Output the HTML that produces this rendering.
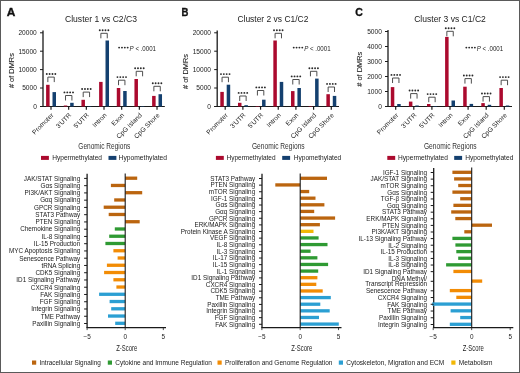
<!DOCTYPE html>
<html><head><meta charset="utf-8"><style>
html,body{margin:0;padding:0;background:#fff;}
#f{position:relative;width:520px;height:373px;box-sizing:border-box;border:1px solid #5a5a5a;overflow:hidden;background:#fff;}
svg{position:absolute;left:-1px;top:-1px;font-family:"Liberation Sans", sans-serif;will-change:transform;}
</style></head><body><div id="f">
<svg width="520" height="373" viewBox="0 0 520 373">
<text x="6.80" y="15.70" font-size="11" text-anchor="start" fill="#111" textLength="8.60" lengthAdjust="spacingAndGlyphs" font-weight="bold" stroke="#111" stroke-width="0.35">A</text>
<text x="65.00" y="21.90" font-size="8.7" text-anchor="start" fill="#222" textLength="72.00" lengthAdjust="spacingAndGlyphs">Cluster 1 vs C2/C3</text>
<line x1="43.00" y1="30.50" x2="43.00" y2="107.00" stroke="#1a1a1a" stroke-width="1.3"/>
<line x1="40.00" y1="106.50" x2="164.80" y2="106.50" stroke="#1a1a1a" stroke-width="1.1"/>
<line x1="40.00" y1="106.50" x2="43.00" y2="106.50" stroke="#1a1a1a" stroke-width="1"/>
<text x="36.80" y="108.80" font-size="6.6" text-anchor="end" fill="#222">0</text>
<line x1="40.00" y1="88.00" x2="43.00" y2="88.00" stroke="#1a1a1a" stroke-width="1"/>
<text x="36.80" y="90.30" font-size="6.6" text-anchor="end" fill="#222">5000</text>
<line x1="40.00" y1="69.60" x2="43.00" y2="69.60" stroke="#1a1a1a" stroke-width="1"/>
<text x="36.80" y="71.90" font-size="6.6" text-anchor="end" fill="#222">10000</text>
<line x1="40.00" y1="51.20" x2="43.00" y2="51.20" stroke="#1a1a1a" stroke-width="1"/>
<text x="36.80" y="53.50" font-size="6.6" text-anchor="end" fill="#222">15000</text>
<line x1="40.00" y1="32.80" x2="43.00" y2="32.80" stroke="#1a1a1a" stroke-width="1"/>
<text x="36.80" y="35.10" font-size="6.6" text-anchor="end" fill="#222">20000</text>
<text x="-17.50" y="0.00" font-size="6.8" text-anchor="start" fill="#222" stroke="#222" stroke-width="0.08" textLength="35.00" lengthAdjust="spacingAndGlyphs" transform="translate(14.20,70.60) rotate(-90)"># of DMRs</text>
<rect x="46.10" y="84.80" width="3.50" height="21.70" fill="#ab0a2e"/>
<rect x="52.50" y="92.10" width="3.50" height="14.40" fill="#14406f"/>
<line x1="51.00" y1="106.50" x2="51.00" y2="109.70" stroke="#1a1a1a" stroke-width="1.2"/>
<path d="M47.85,82.10 V77.10 H54.25 V82.10" stroke="#3a3a3a" stroke-width="0.9" fill="none"/>
<circle cx="46.77" cy="74.00" r="0.95" fill="#2a2a2a"/>
<circle cx="49.62" cy="74.00" r="0.95" fill="#2a2a2a"/>
<circle cx="52.47" cy="74.00" r="0.95" fill="#2a2a2a"/>
<circle cx="55.32" cy="74.00" r="0.95" fill="#2a2a2a"/>
<text x="0.00" y="0.00" font-size="6.6" text-anchor="end" fill="#222" transform="translate(54.00,115.70) rotate(-45)">Promoter</text>
<rect x="63.77" y="105.50" width="3.50" height="1.00" fill="#ab0a2e"/>
<rect x="70.17" y="102.80" width="3.50" height="3.70" fill="#14406f"/>
<line x1="68.67" y1="106.50" x2="68.67" y2="109.70" stroke="#1a1a1a" stroke-width="1.2"/>
<path d="M65.52,100.50 V95.50 H71.92 V100.50" stroke="#3a3a3a" stroke-width="0.9" fill="none"/>
<circle cx="64.44" cy="92.40" r="0.95" fill="#2a2a2a"/>
<circle cx="67.30" cy="92.40" r="0.95" fill="#2a2a2a"/>
<circle cx="70.14" cy="92.40" r="0.95" fill="#2a2a2a"/>
<circle cx="73.00" cy="92.40" r="0.95" fill="#2a2a2a"/>
<text x="0.00" y="0.00" font-size="6.6" text-anchor="end" fill="#222" transform="translate(71.67,115.70) rotate(-45)">3'UTR</text>
<rect x="81.44" y="99.80" width="3.50" height="6.70" fill="#ab0a2e"/>
<rect x="87.84" y="106.00" width="3.50" height="0.50" fill="#14406f"/>
<line x1="86.34" y1="106.50" x2="86.34" y2="109.70" stroke="#1a1a1a" stroke-width="1.2"/>
<path d="M83.19,97.10 V92.10 H89.59 V97.10" stroke="#3a3a3a" stroke-width="0.9" fill="none"/>
<circle cx="82.11" cy="89.00" r="0.95" fill="#2a2a2a"/>
<circle cx="84.97" cy="89.00" r="0.95" fill="#2a2a2a"/>
<circle cx="87.81" cy="89.00" r="0.95" fill="#2a2a2a"/>
<circle cx="90.67" cy="89.00" r="0.95" fill="#2a2a2a"/>
<text x="0.00" y="0.00" font-size="6.6" text-anchor="end" fill="#222" transform="translate(89.34,115.70) rotate(-45)">5'UTR</text>
<rect x="99.11" y="81.90" width="3.50" height="24.60" fill="#ab0a2e"/>
<rect x="105.51" y="40.50" width="3.50" height="66.00" fill="#14406f"/>
<line x1="104.01" y1="106.50" x2="104.01" y2="109.70" stroke="#1a1a1a" stroke-width="1.2"/>
<path d="M100.86,38.30 V33.30 H107.26 V38.30" stroke="#3a3a3a" stroke-width="0.9" fill="none"/>
<circle cx="99.78" cy="30.20" r="0.95" fill="#2a2a2a"/>
<circle cx="102.64" cy="30.20" r="0.95" fill="#2a2a2a"/>
<circle cx="105.48" cy="30.20" r="0.95" fill="#2a2a2a"/>
<circle cx="108.34" cy="30.20" r="0.95" fill="#2a2a2a"/>
<text x="0.00" y="0.00" font-size="6.6" text-anchor="end" fill="#222" transform="translate(107.01,115.70) rotate(-45)">Intron</text>
<rect x="116.78" y="88.00" width="3.50" height="18.50" fill="#ab0a2e"/>
<rect x="123.18" y="91.00" width="3.50" height="15.50" fill="#14406f"/>
<line x1="121.68" y1="106.50" x2="121.68" y2="109.70" stroke="#1a1a1a" stroke-width="1.2"/>
<path d="M118.53,85.20 V80.20 H124.93 V85.20" stroke="#3a3a3a" stroke-width="0.9" fill="none"/>
<circle cx="117.45" cy="77.10" r="0.95" fill="#2a2a2a"/>
<circle cx="120.31" cy="77.10" r="0.95" fill="#2a2a2a"/>
<circle cx="123.16" cy="77.10" r="0.95" fill="#2a2a2a"/>
<circle cx="126.01" cy="77.10" r="0.95" fill="#2a2a2a"/>
<text x="0.00" y="0.00" font-size="6.6" text-anchor="end" fill="#222" transform="translate(124.68,115.70) rotate(-45)">Exon</text>
<rect x="134.45" y="79.00" width="3.50" height="27.50" fill="#ab0a2e"/>
<rect x="140.85" y="106.00" width="3.50" height="0.50" fill="#14406f"/>
<line x1="139.35" y1="106.50" x2="139.35" y2="109.70" stroke="#1a1a1a" stroke-width="1.2"/>
<path d="M136.20,76.30 V71.30 H142.60 V76.30" stroke="#3a3a3a" stroke-width="0.9" fill="none"/>
<circle cx="135.13" cy="68.20" r="0.95" fill="#2a2a2a"/>
<circle cx="137.98" cy="68.20" r="0.95" fill="#2a2a2a"/>
<circle cx="140.83" cy="68.20" r="0.95" fill="#2a2a2a"/>
<circle cx="143.68" cy="68.20" r="0.95" fill="#2a2a2a"/>
<text x="0.00" y="0.00" font-size="6.6" text-anchor="end" fill="#222" transform="translate(142.35,115.70) rotate(-45)">CpG Island</text>
<rect x="152.12" y="95.90" width="3.50" height="10.60" fill="#ab0a2e"/>
<rect x="158.52" y="94.20" width="3.50" height="12.30" fill="#14406f"/>
<line x1="157.02" y1="106.50" x2="157.02" y2="109.70" stroke="#1a1a1a" stroke-width="1.2"/>
<path d="M153.87,91.30 V86.30 H160.27 V91.30" stroke="#3a3a3a" stroke-width="0.9" fill="none"/>
<circle cx="152.79" cy="83.20" r="0.95" fill="#2a2a2a"/>
<circle cx="155.64" cy="83.20" r="0.95" fill="#2a2a2a"/>
<circle cx="158.50" cy="83.20" r="0.95" fill="#2a2a2a"/>
<circle cx="161.34" cy="83.20" r="0.95" fill="#2a2a2a"/>
<text x="0.00" y="0.00" font-size="6.6" text-anchor="end" fill="#222" transform="translate(160.02,115.70) rotate(-45)">CpG Shore</text>
<circle cx="119.12" cy="47.60" r="0.95" fill="#2a2a2a"/>
<circle cx="121.97" cy="47.60" r="0.95" fill="#2a2a2a"/>
<circle cx="124.82" cy="47.60" r="0.95" fill="#2a2a2a"/>
<circle cx="127.67" cy="47.60" r="0.95" fill="#2a2a2a"/>
<text x="129.60" y="50.80" font-size="7" fill="#222" textLength="26.4" lengthAdjust="spacingAndGlyphs"><tspan font-style="italic">P</tspan> &lt; .0001</text>
<text x="78.30" y="149.30" font-size="8.8" text-anchor="start" fill="#333" textLength="52.00" lengthAdjust="spacingAndGlyphs">Genomic Regions</text>
<rect x="41.00" y="155.90" width="7.90" height="4.00" fill="#ab0a2e"/>
<text x="52.20" y="159.90" font-size="6.4" text-anchor="start" fill="#222" textLength="49.80" lengthAdjust="spacingAndGlyphs">Hypermethylated</text>
<rect x="108.50" y="155.90" width="7.90" height="4.00" fill="#14406f"/>
<text x="118.60" y="159.90" font-size="6.4" text-anchor="start" fill="#222" textLength="48.40" lengthAdjust="spacingAndGlyphs">Hypomethylated</text>
<text x="181.40" y="16.20" font-size="11" text-anchor="start" fill="#111" textLength="6.90" lengthAdjust="spacingAndGlyphs" font-weight="bold" stroke="#111" stroke-width="0.35">B</text>
<text x="237.40" y="21.90" font-size="8.7" text-anchor="start" fill="#222" textLength="71.00" lengthAdjust="spacingAndGlyphs">Cluster 2 vs C1/C2</text>
<line x1="217.20" y1="30.50" x2="217.20" y2="107.00" stroke="#1a1a1a" stroke-width="1.3"/>
<line x1="214.20" y1="106.50" x2="339.00" y2="106.50" stroke="#1a1a1a" stroke-width="1.1"/>
<line x1="214.20" y1="106.50" x2="217.20" y2="106.50" stroke="#1a1a1a" stroke-width="1"/>
<text x="211.00" y="108.80" font-size="6.6" text-anchor="end" fill="#222">0</text>
<line x1="214.20" y1="88.00" x2="217.20" y2="88.00" stroke="#1a1a1a" stroke-width="1"/>
<text x="211.00" y="90.30" font-size="6.6" text-anchor="end" fill="#222">5000</text>
<line x1="214.20" y1="69.60" x2="217.20" y2="69.60" stroke="#1a1a1a" stroke-width="1"/>
<text x="211.00" y="71.90" font-size="6.6" text-anchor="end" fill="#222">10000</text>
<line x1="214.20" y1="51.20" x2="217.20" y2="51.20" stroke="#1a1a1a" stroke-width="1"/>
<text x="211.00" y="53.50" font-size="6.6" text-anchor="end" fill="#222">15000</text>
<line x1="214.20" y1="32.80" x2="217.20" y2="32.80" stroke="#1a1a1a" stroke-width="1"/>
<text x="211.00" y="35.10" font-size="6.6" text-anchor="end" fill="#222">20000</text>
<text x="-17.50" y="0.00" font-size="6.8" text-anchor="start" fill="#222" stroke="#222" stroke-width="0.08" textLength="35.00" lengthAdjust="spacingAndGlyphs" transform="translate(188.30,71.50) rotate(-90)"># of DMRs</text>
<rect x="220.30" y="91.90" width="3.50" height="14.60" fill="#ab0a2e"/>
<rect x="226.70" y="84.70" width="3.50" height="21.80" fill="#14406f"/>
<line x1="225.20" y1="106.50" x2="225.20" y2="109.70" stroke="#1a1a1a" stroke-width="1.2"/>
<path d="M222.05,82.20 V77.20 H228.45 V82.20" stroke="#3a3a3a" stroke-width="0.9" fill="none"/>
<circle cx="220.97" cy="74.10" r="0.95" fill="#2a2a2a"/>
<circle cx="223.82" cy="74.10" r="0.95" fill="#2a2a2a"/>
<circle cx="226.68" cy="74.10" r="0.95" fill="#2a2a2a"/>
<circle cx="229.53" cy="74.10" r="0.95" fill="#2a2a2a"/>
<text x="0.00" y="0.00" font-size="6.6" text-anchor="end" fill="#222" transform="translate(228.20,115.70) rotate(-45)">Promoter</text>
<rect x="237.98" y="102.80" width="3.50" height="3.70" fill="#ab0a2e"/>
<rect x="244.38" y="105.20" width="3.50" height="1.30" fill="#14406f"/>
<line x1="242.88" y1="106.50" x2="242.88" y2="109.70" stroke="#1a1a1a" stroke-width="1.2"/>
<path d="M239.73,101.00 V96.00 H246.13 V101.00" stroke="#3a3a3a" stroke-width="0.9" fill="none"/>
<circle cx="238.66" cy="92.90" r="0.95" fill="#2a2a2a"/>
<circle cx="241.50" cy="92.90" r="0.95" fill="#2a2a2a"/>
<circle cx="244.36" cy="92.90" r="0.95" fill="#2a2a2a"/>
<circle cx="247.21" cy="92.90" r="0.95" fill="#2a2a2a"/>
<text x="0.00" y="0.00" font-size="6.6" text-anchor="end" fill="#222" transform="translate(245.88,115.70) rotate(-45)">3'UTR</text>
<rect x="255.66" y="106.00" width="3.50" height="0.50" fill="#ab0a2e"/>
<rect x="262.06" y="99.70" width="3.50" height="6.80" fill="#14406f"/>
<line x1="260.56" y1="106.50" x2="260.56" y2="109.70" stroke="#1a1a1a" stroke-width="1.2"/>
<path d="M257.41,95.50 V90.50 H263.81 V95.50" stroke="#3a3a3a" stroke-width="0.9" fill="none"/>
<circle cx="256.34" cy="87.40" r="0.95" fill="#2a2a2a"/>
<circle cx="259.19" cy="87.40" r="0.95" fill="#2a2a2a"/>
<circle cx="262.04" cy="87.40" r="0.95" fill="#2a2a2a"/>
<circle cx="264.88" cy="87.40" r="0.95" fill="#2a2a2a"/>
<text x="0.00" y="0.00" font-size="6.6" text-anchor="end" fill="#222" transform="translate(263.56,115.70) rotate(-45)">5'UTR</text>
<rect x="273.34" y="40.50" width="3.50" height="66.00" fill="#ab0a2e"/>
<rect x="279.74" y="81.90" width="3.50" height="24.60" fill="#14406f"/>
<line x1="278.24" y1="106.50" x2="278.24" y2="109.70" stroke="#1a1a1a" stroke-width="1.2"/>
<path d="M275.09,38.30 V33.30 H281.49 V38.30" stroke="#3a3a3a" stroke-width="0.9" fill="none"/>
<circle cx="274.02" cy="30.20" r="0.95" fill="#2a2a2a"/>
<circle cx="276.87" cy="30.20" r="0.95" fill="#2a2a2a"/>
<circle cx="279.72" cy="30.20" r="0.95" fill="#2a2a2a"/>
<circle cx="282.56" cy="30.20" r="0.95" fill="#2a2a2a"/>
<text x="0.00" y="0.00" font-size="6.6" text-anchor="end" fill="#222" transform="translate(281.24,115.70) rotate(-45)">Intron</text>
<rect x="291.02" y="91.10" width="3.50" height="15.40" fill="#ab0a2e"/>
<rect x="297.42" y="88.00" width="3.50" height="18.50" fill="#14406f"/>
<line x1="295.92" y1="106.50" x2="295.92" y2="109.70" stroke="#1a1a1a" stroke-width="1.2"/>
<path d="M292.77,84.50 V79.50 H299.17 V84.50" stroke="#3a3a3a" stroke-width="0.9" fill="none"/>
<circle cx="291.69" cy="76.40" r="0.95" fill="#2a2a2a"/>
<circle cx="294.54" cy="76.40" r="0.95" fill="#2a2a2a"/>
<circle cx="297.39" cy="76.40" r="0.95" fill="#2a2a2a"/>
<circle cx="300.24" cy="76.40" r="0.95" fill="#2a2a2a"/>
<text x="0.00" y="0.00" font-size="6.6" text-anchor="end" fill="#222" transform="translate(298.92,115.70) rotate(-45)">Exon</text>
<rect x="308.70" y="106.00" width="3.50" height="0.50" fill="#ab0a2e"/>
<rect x="315.10" y="78.60" width="3.50" height="27.90" fill="#14406f"/>
<line x1="313.60" y1="106.50" x2="313.60" y2="109.70" stroke="#1a1a1a" stroke-width="1.2"/>
<path d="M310.45,76.30 V71.30 H316.85 V76.30" stroke="#3a3a3a" stroke-width="0.9" fill="none"/>
<circle cx="309.38" cy="68.20" r="0.95" fill="#2a2a2a"/>
<circle cx="312.23" cy="68.20" r="0.95" fill="#2a2a2a"/>
<circle cx="315.08" cy="68.20" r="0.95" fill="#2a2a2a"/>
<circle cx="317.93" cy="68.20" r="0.95" fill="#2a2a2a"/>
<text x="0.00" y="0.00" font-size="6.6" text-anchor="end" fill="#222" transform="translate(316.60,115.70) rotate(-45)">CpG Island</text>
<rect x="326.38" y="94.20" width="3.50" height="12.30" fill="#ab0a2e"/>
<rect x="332.78" y="95.90" width="3.50" height="10.60" fill="#14406f"/>
<line x1="331.28" y1="106.50" x2="331.28" y2="109.70" stroke="#1a1a1a" stroke-width="1.2"/>
<path d="M328.13,92.00 V87.00 H334.53 V92.00" stroke="#3a3a3a" stroke-width="0.9" fill="none"/>
<circle cx="327.06" cy="83.90" r="0.95" fill="#2a2a2a"/>
<circle cx="329.90" cy="83.90" r="0.95" fill="#2a2a2a"/>
<circle cx="332.75" cy="83.90" r="0.95" fill="#2a2a2a"/>
<circle cx="335.60" cy="83.90" r="0.95" fill="#2a2a2a"/>
<text x="0.00" y="0.00" font-size="6.6" text-anchor="end" fill="#222" transform="translate(334.28,115.70) rotate(-45)">CpG Shore</text>
<circle cx="293.73" cy="47.60" r="0.95" fill="#2a2a2a"/>
<circle cx="296.57" cy="47.60" r="0.95" fill="#2a2a2a"/>
<circle cx="299.43" cy="47.60" r="0.95" fill="#2a2a2a"/>
<circle cx="302.27" cy="47.60" r="0.95" fill="#2a2a2a"/>
<text x="304.20" y="50.80" font-size="7" fill="#222" textLength="26.4" lengthAdjust="spacingAndGlyphs"><tspan font-style="italic">P</tspan> &lt; .0001</text>
<text x="251.90" y="149.30" font-size="8.8" text-anchor="start" fill="#333" textLength="52.80" lengthAdjust="spacingAndGlyphs">Genomic Regions</text>
<rect x="215.90" y="155.90" width="7.90" height="4.00" fill="#ab0a2e"/>
<text x="226.50" y="159.90" font-size="6.4" text-anchor="start" fill="#222" textLength="49.10" lengthAdjust="spacingAndGlyphs">Hypermethylated</text>
<rect x="282.20" y="155.90" width="7.90" height="4.00" fill="#14406f"/>
<text x="293.70" y="159.90" font-size="6.4" text-anchor="start" fill="#222" textLength="47.60" lengthAdjust="spacingAndGlyphs">Hypomethylated</text>
<text x="355.30" y="16.40" font-size="11" text-anchor="start" fill="#111" textLength="7.60" lengthAdjust="spacingAndGlyphs" font-weight="bold" stroke="#111" stroke-width="0.35">C</text>
<text x="414.20" y="21.90" font-size="8.7" text-anchor="start" fill="#222" textLength="71.60" lengthAdjust="spacingAndGlyphs">Cluster 3 vs C1/C2</text>
<line x1="388.00" y1="30.00" x2="388.00" y2="107.00" stroke="#1a1a1a" stroke-width="1.3"/>
<line x1="385.00" y1="106.50" x2="512.00" y2="106.50" stroke="#1a1a1a" stroke-width="1.1"/>
<line x1="385.00" y1="106.50" x2="388.00" y2="106.50" stroke="#1a1a1a" stroke-width="1"/>
<text x="381.80" y="108.80" font-size="6.6" text-anchor="end" fill="#222">0</text>
<line x1="385.00" y1="91.50" x2="388.00" y2="91.50" stroke="#1a1a1a" stroke-width="1"/>
<text x="381.80" y="93.80" font-size="6.6" text-anchor="end" fill="#222">1000</text>
<line x1="385.00" y1="76.50" x2="388.00" y2="76.50" stroke="#1a1a1a" stroke-width="1"/>
<text x="381.80" y="78.80" font-size="6.6" text-anchor="end" fill="#222">2000</text>
<line x1="385.00" y1="61.50" x2="388.00" y2="61.50" stroke="#1a1a1a" stroke-width="1"/>
<text x="381.80" y="63.80" font-size="6.6" text-anchor="end" fill="#222">3000</text>
<line x1="385.00" y1="46.50" x2="388.00" y2="46.50" stroke="#1a1a1a" stroke-width="1"/>
<text x="381.80" y="48.80" font-size="6.6" text-anchor="end" fill="#222">4000</text>
<line x1="385.00" y1="31.50" x2="388.00" y2="31.50" stroke="#1a1a1a" stroke-width="1"/>
<text x="381.80" y="33.80" font-size="6.6" text-anchor="end" fill="#222">5000</text>
<text x="-17.50" y="0.00" font-size="6.8" text-anchor="start" fill="#222" stroke="#222" stroke-width="0.08" textLength="35.00" lengthAdjust="spacingAndGlyphs" transform="translate(362.40,69.20) rotate(-90)"># of DMRs</text>
<rect x="390.80" y="87.10" width="3.50" height="19.40" fill="#ab0a2e"/>
<rect x="397.20" y="104.00" width="3.50" height="2.50" fill="#14406f"/>
<line x1="395.70" y1="106.50" x2="395.70" y2="109.70" stroke="#1a1a1a" stroke-width="1.2"/>
<path d="M392.55,83.00 V78.00 H398.95 V83.00" stroke="#3a3a3a" stroke-width="0.9" fill="none"/>
<circle cx="391.48" cy="74.90" r="0.95" fill="#2a2a2a"/>
<circle cx="394.32" cy="74.90" r="0.95" fill="#2a2a2a"/>
<circle cx="397.18" cy="74.90" r="0.95" fill="#2a2a2a"/>
<circle cx="400.02" cy="74.90" r="0.95" fill="#2a2a2a"/>
<text x="0.00" y="0.00" font-size="6.6" text-anchor="end" fill="#222" transform="translate(398.70,115.70) rotate(-45)">Promoter</text>
<rect x="408.90" y="101.60" width="3.50" height="4.90" fill="#ab0a2e"/>
<rect x="415.30" y="105.50" width="3.50" height="1.00" fill="#14406f"/>
<line x1="413.80" y1="106.50" x2="413.80" y2="109.70" stroke="#1a1a1a" stroke-width="1.2"/>
<path d="M410.65,98.60 V93.60 H417.05 V98.60" stroke="#3a3a3a" stroke-width="0.9" fill="none"/>
<circle cx="409.58" cy="90.50" r="0.95" fill="#2a2a2a"/>
<circle cx="412.43" cy="90.50" r="0.95" fill="#2a2a2a"/>
<circle cx="415.28" cy="90.50" r="0.95" fill="#2a2a2a"/>
<circle cx="418.12" cy="90.50" r="0.95" fill="#2a2a2a"/>
<text x="0.00" y="0.00" font-size="6.6" text-anchor="end" fill="#222" transform="translate(416.80,115.70) rotate(-45)">3'UTR</text>
<rect x="427.00" y="104.00" width="3.50" height="2.50" fill="#ab0a2e"/>
<rect x="433.40" y="106.00" width="3.50" height="0.50" fill="#14406f"/>
<line x1="431.90" y1="106.50" x2="431.90" y2="109.70" stroke="#1a1a1a" stroke-width="1.2"/>
<path d="M428.75,102.20 V97.20 H435.15 V102.20" stroke="#3a3a3a" stroke-width="0.9" fill="none"/>
<circle cx="427.68" cy="94.10" r="0.95" fill="#2a2a2a"/>
<circle cx="430.52" cy="94.10" r="0.95" fill="#2a2a2a"/>
<circle cx="433.38" cy="94.10" r="0.95" fill="#2a2a2a"/>
<circle cx="436.22" cy="94.10" r="0.95" fill="#2a2a2a"/>
<text x="0.00" y="0.00" font-size="6.6" text-anchor="end" fill="#222" transform="translate(434.90,115.70) rotate(-45)">5'UTR</text>
<rect x="445.10" y="36.90" width="3.50" height="69.60" fill="#ab0a2e"/>
<rect x="451.50" y="100.50" width="3.50" height="6.00" fill="#14406f"/>
<line x1="450.00" y1="106.50" x2="450.00" y2="109.70" stroke="#1a1a1a" stroke-width="1.2"/>
<path d="M446.85,36.30 V31.30 H453.25 V36.30" stroke="#3a3a3a" stroke-width="0.9" fill="none"/>
<circle cx="445.78" cy="28.20" r="0.95" fill="#2a2a2a"/>
<circle cx="448.62" cy="28.20" r="0.95" fill="#2a2a2a"/>
<circle cx="451.48" cy="28.20" r="0.95" fill="#2a2a2a"/>
<circle cx="454.32" cy="28.20" r="0.95" fill="#2a2a2a"/>
<text x="0.00" y="0.00" font-size="6.6" text-anchor="end" fill="#222" transform="translate(453.00,115.70) rotate(-45)">Intron</text>
<rect x="463.20" y="86.70" width="3.50" height="19.80" fill="#ab0a2e"/>
<rect x="469.60" y="103.90" width="3.50" height="2.60" fill="#14406f"/>
<line x1="468.10" y1="106.50" x2="468.10" y2="109.70" stroke="#1a1a1a" stroke-width="1.2"/>
<path d="M464.95,83.60 V78.60 H471.35 V83.60" stroke="#3a3a3a" stroke-width="0.9" fill="none"/>
<circle cx="463.88" cy="75.50" r="0.95" fill="#2a2a2a"/>
<circle cx="466.73" cy="75.50" r="0.95" fill="#2a2a2a"/>
<circle cx="469.58" cy="75.50" r="0.95" fill="#2a2a2a"/>
<circle cx="472.43" cy="75.50" r="0.95" fill="#2a2a2a"/>
<text x="0.00" y="0.00" font-size="6.6" text-anchor="end" fill="#222" transform="translate(471.10,115.70) rotate(-45)">Exon</text>
<rect x="481.30" y="103.10" width="3.50" height="3.40" fill="#ab0a2e"/>
<rect x="487.70" y="104.80" width="3.50" height="1.70" fill="#14406f"/>
<line x1="486.20" y1="106.50" x2="486.20" y2="109.70" stroke="#1a1a1a" stroke-width="1.2"/>
<path d="M483.05,101.60 V96.60 H489.45 V101.60" stroke="#3a3a3a" stroke-width="0.9" fill="none"/>
<circle cx="481.98" cy="93.50" r="0.95" fill="#2a2a2a"/>
<circle cx="484.82" cy="93.50" r="0.95" fill="#2a2a2a"/>
<circle cx="487.68" cy="93.50" r="0.95" fill="#2a2a2a"/>
<circle cx="490.52" cy="93.50" r="0.95" fill="#2a2a2a"/>
<text x="0.00" y="0.00" font-size="6.6" text-anchor="end" fill="#222" transform="translate(489.20,115.70) rotate(-45)">CpG Island</text>
<rect x="499.40" y="88.00" width="3.50" height="18.50" fill="#ab0a2e"/>
<rect x="505.80" y="105.50" width="3.50" height="1.00" fill="#14406f"/>
<line x1="504.30" y1="106.50" x2="504.30" y2="109.70" stroke="#1a1a1a" stroke-width="1.2"/>
<path d="M501.15,85.20 V80.20 H507.55 V85.20" stroke="#3a3a3a" stroke-width="0.9" fill="none"/>
<circle cx="500.08" cy="77.10" r="0.95" fill="#2a2a2a"/>
<circle cx="502.93" cy="77.10" r="0.95" fill="#2a2a2a"/>
<circle cx="505.78" cy="77.10" r="0.95" fill="#2a2a2a"/>
<circle cx="508.62" cy="77.10" r="0.95" fill="#2a2a2a"/>
<text x="0.00" y="0.00" font-size="6.6" text-anchor="end" fill="#222" transform="translate(507.30,115.70) rotate(-45)">CpG Shore</text>
<circle cx="466.33" cy="47.60" r="0.95" fill="#2a2a2a"/>
<circle cx="469.18" cy="47.60" r="0.95" fill="#2a2a2a"/>
<circle cx="472.03" cy="47.60" r="0.95" fill="#2a2a2a"/>
<circle cx="474.88" cy="47.60" r="0.95" fill="#2a2a2a"/>
<text x="476.80" y="50.80" font-size="7" fill="#222" textLength="26.4" lengthAdjust="spacingAndGlyphs"><tspan font-style="italic">P</tspan> &lt; .0001</text>
<text x="423.90" y="149.30" font-size="8.8" text-anchor="start" fill="#333" textLength="52.80" lengthAdjust="spacingAndGlyphs">Genomic Regions</text>
<rect x="387.30" y="155.90" width="7.90" height="4.00" fill="#ab0a2e"/>
<text x="398.00" y="159.90" font-size="6.4" text-anchor="start" fill="#222" textLength="49.90" lengthAdjust="spacingAndGlyphs">Hypermethylated</text>
<rect x="454.20" y="155.90" width="7.90" height="4.00" fill="#14406f"/>
<text x="465.20" y="159.90" font-size="6.4" text-anchor="start" fill="#222" textLength="48.20" lengthAdjust="spacingAndGlyphs">Hypomethylated</text>
<line x1="87.10" y1="173.80" x2="87.10" y2="328.10" stroke="#1a1a1a" stroke-width="1.3"/>
<line x1="86.60" y1="327.60" x2="166.00" y2="327.60" stroke="#1a1a1a" stroke-width="1.1"/>
<line x1="87.10" y1="327.60" x2="87.10" y2="330.10" stroke="#1a1a1a" stroke-width="0.8"/>
<text x="87.10" y="339.20" font-size="6.4" text-anchor="middle" fill="#222">−5</text>
<line x1="125.20" y1="327.60" x2="125.20" y2="330.10" stroke="#1a1a1a" stroke-width="0.8"/>
<text x="125.20" y="339.20" font-size="6.4" text-anchor="middle" fill="#222">0</text>
<line x1="163.30" y1="327.60" x2="163.30" y2="330.10" stroke="#1a1a1a" stroke-width="0.8"/>
<text x="163.30" y="339.20" font-size="6.4" text-anchor="middle" fill="#222">5</text>
<text x="126.70" y="350.90" font-size="8.3" text-anchor="middle" fill="#222" textLength="21.00" lengthAdjust="spacingAndGlyphs">Z-Score</text>
<rect x="125.20" y="176.55" width="12.00" height="3.30" fill="#bb650f"/>
<line x1="84.10" y1="178.40" x2="87.10" y2="178.40" stroke="#1a1a1a" stroke-width="1"/>
<text x="80.20" y="180.70" font-size="6.35" text-anchor="end" fill="#1a1a1a">JAK/STAT Signaling</text>
<rect x="110.90" y="183.81" width="14.30" height="3.30" fill="#bb650f"/>
<line x1="84.10" y1="185.66" x2="87.10" y2="185.66" stroke="#1a1a1a" stroke-width="1"/>
<text x="80.20" y="187.96" font-size="6.35" text-anchor="end" fill="#1a1a1a">Gαs Signaling</text>
<rect x="125.20" y="191.06" width="17.00" height="3.30" fill="#bb650f"/>
<line x1="84.10" y1="192.91" x2="87.10" y2="192.91" stroke="#1a1a1a" stroke-width="1"/>
<text x="80.20" y="195.21" font-size="6.35" text-anchor="end" fill="#1a1a1a">PI3K/AKT Signaling</text>
<rect x="114.20" y="198.32" width="11.00" height="3.30" fill="#bb650f"/>
<line x1="84.10" y1="200.17" x2="87.10" y2="200.17" stroke="#1a1a1a" stroke-width="1"/>
<text x="80.20" y="202.47" font-size="6.35" text-anchor="end" fill="#1a1a1a">Gαq Signaling</text>
<rect x="103.70" y="205.57" width="21.50" height="3.30" fill="#bb650f"/>
<line x1="84.10" y1="207.42" x2="87.10" y2="207.42" stroke="#1a1a1a" stroke-width="1"/>
<text x="80.20" y="209.72" font-size="6.35" text-anchor="end" fill="#1a1a1a">GPCR Signaling</text>
<rect x="108.70" y="212.83" width="16.50" height="3.30" fill="#bb650f"/>
<line x1="84.10" y1="214.68" x2="87.10" y2="214.68" stroke="#1a1a1a" stroke-width="1"/>
<text x="80.20" y="216.98" font-size="6.35" text-anchor="end" fill="#1a1a1a">STAT3 Pathway</text>
<rect x="125.20" y="220.08" width="14.50" height="3.30" fill="#bb650f"/>
<line x1="84.10" y1="221.93" x2="87.10" y2="221.93" stroke="#1a1a1a" stroke-width="1"/>
<text x="80.20" y="224.23" font-size="6.35" text-anchor="end" fill="#1a1a1a">PTEN Signaling</text>
<rect x="114.80" y="227.34" width="10.40" height="3.30" fill="#2f9a33"/>
<line x1="84.10" y1="229.19" x2="87.10" y2="229.19" stroke="#1a1a1a" stroke-width="1"/>
<text x="80.20" y="231.49" font-size="6.35" text-anchor="end" fill="#1a1a1a">Chemokine Signaling</text>
<rect x="109.20" y="234.59" width="16.00" height="3.30" fill="#2f9a33"/>
<line x1="84.10" y1="236.44" x2="87.10" y2="236.44" stroke="#1a1a1a" stroke-width="1"/>
<text x="80.20" y="238.74" font-size="6.35" text-anchor="end" fill="#1a1a1a">IL-8 Signaling</text>
<rect x="105.40" y="241.84" width="19.80" height="3.30" fill="#2f9a33"/>
<line x1="84.10" y1="243.69" x2="87.10" y2="243.69" stroke="#1a1a1a" stroke-width="1"/>
<text x="80.20" y="246.00" font-size="6.35" text-anchor="end" fill="#1a1a1a">IL-15 Production</text>
<rect x="113.40" y="249.10" width="11.80" height="3.30" fill="#f28c05"/>
<line x1="84.10" y1="250.95" x2="87.10" y2="250.95" stroke="#1a1a1a" stroke-width="1"/>
<text x="80.20" y="253.25" font-size="6.35" text-anchor="end" fill="#1a1a1a">MYC Apoptosis Signaling</text>
<rect x="117.60" y="256.35" width="7.60" height="3.30" fill="#f28c05"/>
<line x1="84.10" y1="258.20" x2="87.10" y2="258.20" stroke="#1a1a1a" stroke-width="1"/>
<text x="80.20" y="260.50" font-size="6.35" text-anchor="end" fill="#1a1a1a">Senescence Pathway</text>
<rect x="106.90" y="263.61" width="18.30" height="3.30" fill="#f28c05"/>
<line x1="84.10" y1="265.46" x2="87.10" y2="265.46" stroke="#1a1a1a" stroke-width="1"/>
<text x="80.20" y="267.76" font-size="6.35" text-anchor="end" fill="#1a1a1a">tRNA Splicing</text>
<rect x="104.10" y="270.87" width="21.10" height="3.30" fill="#f28c05"/>
<line x1="84.10" y1="272.72" x2="87.10" y2="272.72" stroke="#1a1a1a" stroke-width="1"/>
<text x="80.20" y="275.02" font-size="6.35" text-anchor="end" fill="#1a1a1a">CDK5 Signaling</text>
<rect x="113.40" y="278.12" width="11.80" height="3.30" fill="#f28c05"/>
<line x1="84.10" y1="279.97" x2="87.10" y2="279.97" stroke="#1a1a1a" stroke-width="1"/>
<text x="80.20" y="282.27" font-size="6.35" text-anchor="end" fill="#1a1a1a">ID1 Signaling Pathway</text>
<rect x="116.40" y="285.38" width="8.80" height="3.30" fill="#f28c05"/>
<line x1="84.10" y1="287.23" x2="87.10" y2="287.23" stroke="#1a1a1a" stroke-width="1"/>
<text x="80.20" y="289.53" font-size="6.35" text-anchor="end" fill="#1a1a1a">CXCR4 Signaling</text>
<rect x="99.10" y="292.63" width="26.10" height="3.30" fill="#2b9fd3"/>
<line x1="84.10" y1="294.48" x2="87.10" y2="294.48" stroke="#1a1a1a" stroke-width="1"/>
<text x="80.20" y="296.78" font-size="6.35" text-anchor="end" fill="#1a1a1a">FAK Signaling</text>
<rect x="109.60" y="299.88" width="15.60" height="3.30" fill="#2b9fd3"/>
<line x1="84.10" y1="301.74" x2="87.10" y2="301.74" stroke="#1a1a1a" stroke-width="1"/>
<text x="80.20" y="304.04" font-size="6.35" text-anchor="end" fill="#1a1a1a">FGF Signaling</text>
<rect x="111.20" y="307.14" width="14.00" height="3.30" fill="#2b9fd3"/>
<line x1="84.10" y1="308.99" x2="87.10" y2="308.99" stroke="#1a1a1a" stroke-width="1"/>
<text x="80.20" y="311.29" font-size="6.35" text-anchor="end" fill="#1a1a1a">Integrin Signaling</text>
<rect x="108.00" y="314.39" width="17.20" height="3.30" fill="#2b9fd3"/>
<line x1="84.10" y1="316.25" x2="87.10" y2="316.25" stroke="#1a1a1a" stroke-width="1"/>
<text x="80.20" y="318.55" font-size="6.35" text-anchor="end" fill="#1a1a1a">TME Pathway</text>
<rect x="115.20" y="321.65" width="10.00" height="3.30" fill="#2b9fd3"/>
<line x1="84.10" y1="323.50" x2="87.10" y2="323.50" stroke="#1a1a1a" stroke-width="1"/>
<text x="80.20" y="325.80" font-size="6.35" text-anchor="end" fill="#1a1a1a">Paxillin Signaling</text>
<line x1="125.20" y1="173.40" x2="125.20" y2="327.60" stroke="#1a1a1a" stroke-width="1.1"/>
<line x1="262.00" y1="173.80" x2="262.00" y2="328.10" stroke="#1a1a1a" stroke-width="1.3"/>
<line x1="261.50" y1="327.60" x2="341.50" y2="327.60" stroke="#1a1a1a" stroke-width="1.1"/>
<line x1="261.90" y1="327.60" x2="261.90" y2="330.10" stroke="#1a1a1a" stroke-width="0.8"/>
<text x="261.90" y="339.20" font-size="6.4" text-anchor="middle" fill="#222">−5</text>
<line x1="300.20" y1="327.60" x2="300.20" y2="330.10" stroke="#1a1a1a" stroke-width="0.8"/>
<text x="300.20" y="339.20" font-size="6.4" text-anchor="middle" fill="#222">0</text>
<line x1="338.50" y1="327.60" x2="338.50" y2="330.10" stroke="#1a1a1a" stroke-width="0.8"/>
<text x="338.50" y="339.20" font-size="6.4" text-anchor="middle" fill="#222">5</text>
<text x="301.70" y="350.90" font-size="8.3" text-anchor="middle" fill="#222" textLength="21.00" lengthAdjust="spacingAndGlyphs">Z-Score</text>
<rect x="300.20" y="176.65" width="26.80" height="3.30" fill="#bb650f"/>
<line x1="259.00" y1="178.50" x2="262.00" y2="178.50" stroke="#1a1a1a" stroke-width="1"/>
<text x="255.20" y="180.80" font-size="6.35" text-anchor="end" fill="#1a1a1a">STAT3 Pathway</text>
<rect x="275.30" y="183.28" width="24.90" height="3.30" fill="#bb650f"/>
<line x1="259.00" y1="185.13" x2="262.00" y2="185.13" stroke="#1a1a1a" stroke-width="1"/>
<text x="255.20" y="187.43" font-size="6.35" text-anchor="end" fill="#1a1a1a">PTEN Signaling</text>
<rect x="300.20" y="189.90" width="9.00" height="3.30" fill="#bb650f"/>
<line x1="259.00" y1="191.75" x2="262.00" y2="191.75" stroke="#1a1a1a" stroke-width="1"/>
<text x="255.20" y="194.05" font-size="6.35" text-anchor="end" fill="#1a1a1a">mTOR Signaling</text>
<rect x="300.20" y="196.53" width="15.30" height="3.30" fill="#bb650f"/>
<line x1="259.00" y1="198.38" x2="262.00" y2="198.38" stroke="#1a1a1a" stroke-width="1"/>
<text x="255.20" y="200.68" font-size="6.35" text-anchor="end" fill="#1a1a1a">IGF-1 Signaling</text>
<rect x="300.20" y="203.16" width="24.20" height="3.30" fill="#bb650f"/>
<line x1="259.00" y1="205.01" x2="262.00" y2="205.01" stroke="#1a1a1a" stroke-width="1"/>
<text x="255.20" y="207.31" font-size="6.35" text-anchor="end" fill="#1a1a1a">Gαs Signaling</text>
<rect x="300.20" y="209.78" width="14.00" height="3.30" fill="#bb650f"/>
<line x1="259.00" y1="211.63" x2="262.00" y2="211.63" stroke="#1a1a1a" stroke-width="1"/>
<text x="255.20" y="213.94" font-size="6.35" text-anchor="end" fill="#1a1a1a">Gαq Signaling</text>
<rect x="300.20" y="216.41" width="34.90" height="3.30" fill="#bb650f"/>
<line x1="259.00" y1="218.26" x2="262.00" y2="218.26" stroke="#1a1a1a" stroke-width="1"/>
<text x="255.20" y="220.56" font-size="6.35" text-anchor="end" fill="#1a1a1a">GPCR Signaling</text>
<rect x="300.20" y="223.04" width="19.70" height="3.30" fill="#bb650f"/>
<line x1="259.00" y1="224.89" x2="262.00" y2="224.89" stroke="#1a1a1a" stroke-width="1"/>
<text x="255.20" y="227.19" font-size="6.35" text-anchor="end" fill="#1a1a1a">ERK/MAPK Signaling</text>
<rect x="300.20" y="229.67" width="13.30" height="3.30" fill="#f2b705"/>
<line x1="259.00" y1="231.52" x2="262.00" y2="231.52" stroke="#1a1a1a" stroke-width="1"/>
<text x="255.20" y="233.82" font-size="6.35" text-anchor="end" fill="#1a1a1a">Protein Kinase A Signaling</text>
<rect x="300.20" y="236.29" width="18.40" height="3.30" fill="#2f9a33"/>
<line x1="259.00" y1="238.14" x2="262.00" y2="238.14" stroke="#1a1a1a" stroke-width="1"/>
<text x="255.20" y="240.44" font-size="6.35" text-anchor="end" fill="#1a1a1a">VEGF Signaling</text>
<rect x="300.20" y="242.92" width="27.30" height="3.30" fill="#2f9a33"/>
<line x1="259.00" y1="244.77" x2="262.00" y2="244.77" stroke="#1a1a1a" stroke-width="1"/>
<text x="255.20" y="247.07" font-size="6.35" text-anchor="end" fill="#1a1a1a">IL-8 Signaling</text>
<rect x="300.20" y="249.55" width="10.40" height="3.30" fill="#2f9a33"/>
<line x1="259.00" y1="251.40" x2="262.00" y2="251.40" stroke="#1a1a1a" stroke-width="1"/>
<text x="255.20" y="253.70" font-size="6.35" text-anchor="end" fill="#1a1a1a">IL-3 Signaling</text>
<rect x="300.20" y="256.17" width="17.20" height="3.30" fill="#2f9a33"/>
<line x1="259.00" y1="258.02" x2="262.00" y2="258.02" stroke="#1a1a1a" stroke-width="1"/>
<text x="255.20" y="260.32" font-size="6.35" text-anchor="end" fill="#1a1a1a">IL-17 Signaling</text>
<rect x="300.20" y="262.80" width="27.90" height="3.30" fill="#2f9a33"/>
<line x1="259.00" y1="264.65" x2="262.00" y2="264.65" stroke="#1a1a1a" stroke-width="1"/>
<text x="255.20" y="266.95" font-size="6.35" text-anchor="end" fill="#1a1a1a">IL-15 Signaling</text>
<rect x="300.20" y="269.43" width="18.00" height="3.30" fill="#2f9a33"/>
<line x1="259.00" y1="271.28" x2="262.00" y2="271.28" stroke="#1a1a1a" stroke-width="1"/>
<text x="255.20" y="273.58" font-size="6.35" text-anchor="end" fill="#1a1a1a">IL-1 Signaling</text>
<rect x="300.20" y="276.05" width="17.20" height="3.30" fill="#f28c05"/>
<line x1="259.00" y1="277.90" x2="262.00" y2="277.90" stroke="#1a1a1a" stroke-width="1"/>
<text x="255.20" y="280.20" font-size="6.35" text-anchor="end" fill="#1a1a1a">ID1 Signaling Pathway</text>
<rect x="300.20" y="282.68" width="16.10" height="3.30" fill="#f28c05"/>
<line x1="259.00" y1="284.53" x2="262.00" y2="284.53" stroke="#1a1a1a" stroke-width="1"/>
<text x="255.20" y="286.83" font-size="6.35" text-anchor="end" fill="#1a1a1a">CXCR4 Signaling</text>
<rect x="300.20" y="289.31" width="22.50" height="3.30" fill="#f28c05"/>
<line x1="259.00" y1="291.16" x2="262.00" y2="291.16" stroke="#1a1a1a" stroke-width="1"/>
<text x="255.20" y="293.46" font-size="6.35" text-anchor="end" fill="#1a1a1a">CDK5 Signaling</text>
<rect x="300.20" y="295.94" width="30.60" height="3.30" fill="#2b9fd3"/>
<line x1="259.00" y1="297.79" x2="262.00" y2="297.79" stroke="#1a1a1a" stroke-width="1"/>
<text x="255.20" y="300.09" font-size="6.35" text-anchor="end" fill="#1a1a1a">TME Pathway</text>
<rect x="300.20" y="302.56" width="20.10" height="3.30" fill="#2b9fd3"/>
<line x1="259.00" y1="304.41" x2="262.00" y2="304.41" stroke="#1a1a1a" stroke-width="1"/>
<text x="255.20" y="306.71" font-size="6.35" text-anchor="end" fill="#1a1a1a">Paxillin Signaling</text>
<rect x="300.20" y="309.19" width="29.50" height="3.30" fill="#2b9fd3"/>
<line x1="259.00" y1="311.04" x2="262.00" y2="311.04" stroke="#1a1a1a" stroke-width="1"/>
<text x="255.20" y="313.34" font-size="6.35" text-anchor="end" fill="#1a1a1a">Integrin Signaling</text>
<rect x="300.20" y="315.82" width="18.80" height="3.30" fill="#2b9fd3"/>
<line x1="259.00" y1="317.67" x2="262.00" y2="317.67" stroke="#1a1a1a" stroke-width="1"/>
<text x="255.20" y="319.97" font-size="6.35" text-anchor="end" fill="#1a1a1a">FGF Signaling</text>
<rect x="300.20" y="322.44" width="38.60" height="3.30" fill="#2b9fd3"/>
<line x1="259.00" y1="324.29" x2="262.00" y2="324.29" stroke="#1a1a1a" stroke-width="1"/>
<text x="255.20" y="326.59" font-size="6.35" text-anchor="end" fill="#1a1a1a">FAK Signaling</text>
<line x1="300.20" y1="173.40" x2="300.20" y2="327.60" stroke="#1a1a1a" stroke-width="1.1"/>
<line x1="433.70" y1="168.00" x2="433.70" y2="328.10" stroke="#1a1a1a" stroke-width="1.3"/>
<line x1="433.20" y1="327.60" x2="513.30" y2="327.60" stroke="#1a1a1a" stroke-width="1.1"/>
<line x1="433.20" y1="327.60" x2="433.20" y2="330.10" stroke="#1a1a1a" stroke-width="0.8"/>
<text x="433.20" y="339.20" font-size="6.4" text-anchor="middle" fill="#222">−5</text>
<line x1="471.70" y1="327.60" x2="471.70" y2="330.10" stroke="#1a1a1a" stroke-width="0.8"/>
<text x="471.70" y="339.20" font-size="6.4" text-anchor="middle" fill="#222">0</text>
<line x1="510.20" y1="327.60" x2="510.20" y2="330.10" stroke="#1a1a1a" stroke-width="0.8"/>
<text x="510.20" y="339.20" font-size="6.4" text-anchor="middle" fill="#222">5</text>
<text x="473.20" y="350.90" font-size="8.3" text-anchor="middle" fill="#222" textLength="21.00" lengthAdjust="spacingAndGlyphs">Z-Score</text>
<rect x="452.40" y="170.65" width="19.30" height="3.30" fill="#bb650f"/>
<line x1="430.70" y1="172.50" x2="433.70" y2="172.50" stroke="#1a1a1a" stroke-width="1"/>
<text x="427.00" y="174.80" font-size="6.35" text-anchor="end" fill="#1a1a1a">IGF-1 Signaling</text>
<rect x="454.10" y="177.26" width="17.60" height="3.30" fill="#bb650f"/>
<line x1="430.70" y1="179.11" x2="433.70" y2="179.11" stroke="#1a1a1a" stroke-width="1"/>
<text x="427.00" y="181.41" font-size="6.35" text-anchor="end" fill="#1a1a1a">JAK/STAT Signaling</text>
<rect x="458.20" y="183.87" width="13.50" height="3.30" fill="#bb650f"/>
<line x1="430.70" y1="185.72" x2="433.70" y2="185.72" stroke="#1a1a1a" stroke-width="1"/>
<text x="427.00" y="188.02" font-size="6.35" text-anchor="end" fill="#1a1a1a">mTOR Signaling</text>
<rect x="452.40" y="190.48" width="19.30" height="3.30" fill="#bb650f"/>
<line x1="430.70" y1="192.33" x2="433.70" y2="192.33" stroke="#1a1a1a" stroke-width="1"/>
<text x="427.00" y="194.63" font-size="6.35" text-anchor="end" fill="#1a1a1a">Gαs Signaling</text>
<rect x="460.20" y="197.09" width="11.50" height="3.30" fill="#bb650f"/>
<line x1="430.70" y1="198.94" x2="433.70" y2="198.94" stroke="#1a1a1a" stroke-width="1"/>
<text x="427.00" y="201.24" font-size="6.35" text-anchor="end" fill="#1a1a1a">TGF-β Signaling</text>
<rect x="453.40" y="203.70" width="18.30" height="3.30" fill="#bb650f"/>
<line x1="430.70" y1="205.55" x2="433.70" y2="205.55" stroke="#1a1a1a" stroke-width="1"/>
<text x="427.00" y="207.85" font-size="6.35" text-anchor="end" fill="#1a1a1a">Gαq Signaling</text>
<rect x="451.20" y="210.31" width="20.50" height="3.30" fill="#bb650f"/>
<line x1="430.70" y1="212.16" x2="433.70" y2="212.16" stroke="#1a1a1a" stroke-width="1"/>
<text x="427.00" y="214.46" font-size="6.35" text-anchor="end" fill="#1a1a1a">STAT3 Pathway</text>
<rect x="455.30" y="216.92" width="16.40" height="3.30" fill="#bb650f"/>
<line x1="430.70" y1="218.77" x2="433.70" y2="218.77" stroke="#1a1a1a" stroke-width="1"/>
<text x="427.00" y="221.07" font-size="6.35" text-anchor="end" fill="#1a1a1a">ERK/MAPK Signaling</text>
<rect x="471.70" y="223.53" width="20.30" height="3.30" fill="#bb650f"/>
<line x1="430.70" y1="225.38" x2="433.70" y2="225.38" stroke="#1a1a1a" stroke-width="1"/>
<text x="427.00" y="227.68" font-size="6.35" text-anchor="end" fill="#1a1a1a">PTEN Signaling</text>
<rect x="464.30" y="230.14" width="7.40" height="3.30" fill="#bb650f"/>
<line x1="430.70" y1="231.99" x2="433.70" y2="231.99" stroke="#1a1a1a" stroke-width="1"/>
<text x="427.00" y="234.29" font-size="6.35" text-anchor="end" fill="#1a1a1a">PI3K/AKT Signaling</text>
<rect x="452.40" y="236.75" width="19.30" height="3.30" fill="#2f9a33"/>
<line x1="430.70" y1="238.60" x2="433.70" y2="238.60" stroke="#1a1a1a" stroke-width="1"/>
<text x="427.00" y="240.90" font-size="6.35" text-anchor="end" fill="#1a1a1a">IL-13 Signaling Pathway</text>
<rect x="455.40" y="243.36" width="16.30" height="3.30" fill="#2f9a33"/>
<line x1="430.70" y1="245.21" x2="433.70" y2="245.21" stroke="#1a1a1a" stroke-width="1"/>
<text x="427.00" y="247.51" font-size="6.35" text-anchor="end" fill="#1a1a1a">IL-2 Signaling</text>
<rect x="456.30" y="249.97" width="15.40" height="3.30" fill="#2f9a33"/>
<line x1="430.70" y1="251.82" x2="433.70" y2="251.82" stroke="#1a1a1a" stroke-width="1"/>
<text x="427.00" y="254.12" font-size="6.35" text-anchor="end" fill="#1a1a1a">IL-15 Production</text>
<rect x="458.20" y="256.58" width="13.50" height="3.30" fill="#2f9a33"/>
<line x1="430.70" y1="258.43" x2="433.70" y2="258.43" stroke="#1a1a1a" stroke-width="1"/>
<text x="427.00" y="260.73" font-size="6.35" text-anchor="end" fill="#1a1a1a">IL-3 Signaling</text>
<rect x="446.10" y="263.19" width="25.60" height="3.30" fill="#2f9a33"/>
<line x1="430.70" y1="265.04" x2="433.70" y2="265.04" stroke="#1a1a1a" stroke-width="1"/>
<text x="427.00" y="267.34" font-size="6.35" text-anchor="end" fill="#1a1a1a">IL-8 Signaling</text>
<rect x="453.40" y="269.80" width="18.30" height="3.30" fill="#f28c05"/>
<line x1="430.70" y1="271.65" x2="433.70" y2="271.65" stroke="#1a1a1a" stroke-width="1"/>
<text x="427.00" y="273.95" font-size="6.35" text-anchor="end" fill="#1a1a1a">ID1 Signaling Pathway</text>
<rect x="471.70" y="279.45" width="10.50" height="3.30" fill="#f28c05"/>
<line x1="430.70" y1="281.30" x2="433.70" y2="281.30" stroke="#1a1a1a" stroke-width="1"/>
<text x="427.00" y="280.50" font-size="6.35" text-anchor="end" fill="#1a1a1a">DNA Methyl/</text>
<text x="427.00" y="285.90" font-size="6.35" text-anchor="end" fill="#1a1a1a">Transcript Repression</text>
<rect x="449.80" y="288.95" width="21.90" height="3.30" fill="#f28c05"/>
<line x1="430.70" y1="290.80" x2="433.70" y2="290.80" stroke="#1a1a1a" stroke-width="1"/>
<text x="427.00" y="293.10" font-size="6.35" text-anchor="end" fill="#1a1a1a">Senescence Pathway</text>
<rect x="456.30" y="295.69" width="15.40" height="3.30" fill="#f28c05"/>
<line x1="430.70" y1="297.54" x2="433.70" y2="297.54" stroke="#1a1a1a" stroke-width="1"/>
<text x="427.00" y="299.84" font-size="6.35" text-anchor="end" fill="#1a1a1a">CXCR4 Signaling</text>
<rect x="432.20" y="302.43" width="39.50" height="3.30" fill="#2b9fd3"/>
<line x1="430.70" y1="304.28" x2="433.70" y2="304.28" stroke="#1a1a1a" stroke-width="1"/>
<text x="427.00" y="306.58" font-size="6.35" text-anchor="end" fill="#1a1a1a">FAK Signaling</text>
<rect x="450.60" y="309.17" width="21.10" height="3.30" fill="#2b9fd3"/>
<line x1="430.70" y1="311.02" x2="433.70" y2="311.02" stroke="#1a1a1a" stroke-width="1"/>
<text x="427.00" y="313.32" font-size="6.35" text-anchor="end" fill="#1a1a1a">TME Pathway</text>
<rect x="460.20" y="315.91" width="11.50" height="3.30" fill="#2b9fd3"/>
<line x1="430.70" y1="317.76" x2="433.70" y2="317.76" stroke="#1a1a1a" stroke-width="1"/>
<text x="427.00" y="320.06" font-size="6.35" text-anchor="end" fill="#1a1a1a">Paxillin Signaling</text>
<rect x="449.80" y="322.65" width="21.90" height="3.30" fill="#2b9fd3"/>
<line x1="430.70" y1="324.50" x2="433.70" y2="324.50" stroke="#1a1a1a" stroke-width="1"/>
<text x="427.00" y="326.80" font-size="6.35" text-anchor="end" fill="#1a1a1a">Integrin Signaling</text>
<line x1="471.70" y1="167.60" x2="471.70" y2="327.60" stroke="#1a1a1a" stroke-width="1.1"/>
<rect x="32.00" y="360.50" width="4.20" height="4.20" fill="#bb650f"/>
<text x="39.50" y="364.80" font-size="6.8" text-anchor="start" fill="#222" textLength="61.30" lengthAdjust="spacingAndGlyphs">Intracellular Signaling</text>
<rect x="107.80" y="360.50" width="4.20" height="4.20" fill="#2f9a33"/>
<text x="115.30" y="364.80" font-size="6.8" text-anchor="start" fill="#222" textLength="96.70" lengthAdjust="spacingAndGlyphs">Cytokine and Immune Regulation</text>
<rect x="217.50" y="360.50" width="4.20" height="4.20" fill="#f28c05"/>
<text x="225.00" y="364.80" font-size="6.8" text-anchor="start" fill="#222" textLength="107.40" lengthAdjust="spacingAndGlyphs">Proliferation and Genome Regulation</text>
<rect x="338.80" y="360.50" width="4.20" height="4.20" fill="#2b9fd3"/>
<text x="346.30" y="364.80" font-size="6.8" text-anchor="start" fill="#222" textLength="98.00" lengthAdjust="spacingAndGlyphs">Cytoskeleton, Migration and ECM</text>
<rect x="451.30" y="360.50" width="4.20" height="4.20" fill="#f2b705"/>
<text x="458.80" y="364.80" font-size="6.8" text-anchor="start" fill="#222" textLength="33.60" lengthAdjust="spacingAndGlyphs">Metabolism</text>
</svg></div></body></html>
